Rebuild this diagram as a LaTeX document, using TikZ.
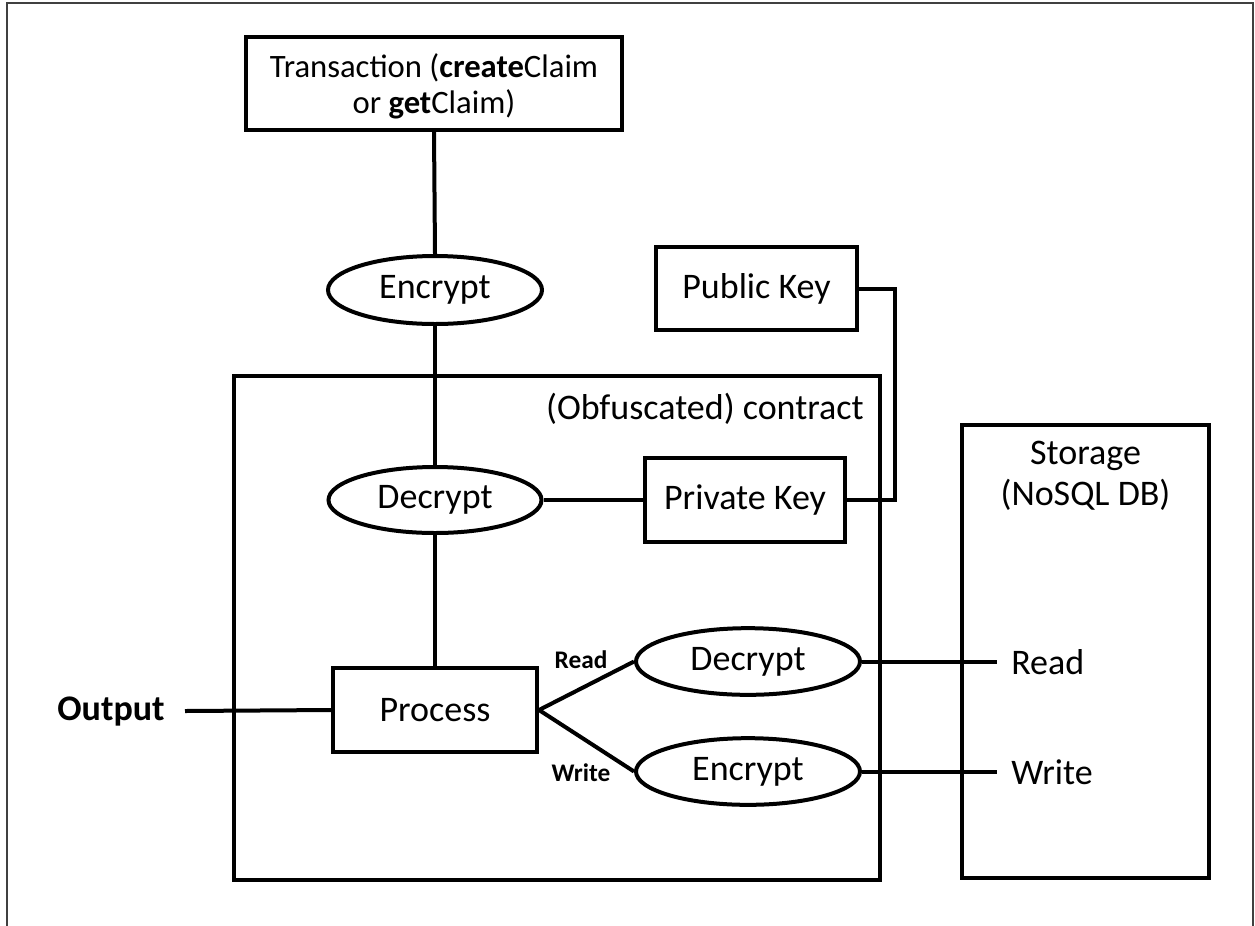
\documentclass[tikz,border=0pt]{standalone}
\usepackage{fontspec}
\setmainfont{Carlito}
\usetikzlibrary{shapes.geometric}
\begin{document}
\begin{tikzpicture}[x=0.75pt,y=-0.75pt,
  every node/.style={font=\fontsize{27}{33}\selectfont, inner sep=0pt},
  box/.style={draw, line width=3pt, rectangle},
  oval/.style={draw, line width=3pt, ellipse},
  conn/.style={line width=3pt},
  small/.style={font=\fontsize{19}{22}\selectfont\bfseries}]
\useasboundingbox (0,0) rectangle (1255,925);
\draw[line width=1pt, black!75] (7,930) -- (7,3) -- (1253,3) -- (1253,930);

\node[box, minimum width=282pt, minimum height=70pt] (trans) at (434,83.5) {};
\node[align=center, font=\fontsize{24.5}{27}\selectfont] (transtext) at (434,86.5)
  {Transaction (\textbf{create}Claim\\or \textbf{get}Claim)};
\node[oval, minimum width=160.5pt, minimum height=51pt] (enc1) at (435,290) {Encrypt};
\node[box, minimum width=150.75pt, minimum height=62.25pt] (pub) at (756.5,288.5) {Public Key};
\node[box, minimum width=484.5pt, minimum height=378pt] (contract) at (557,628) {};
\node[anchor=east] (clabel) at (864,409) {(Obfuscated) contract};
\node[oval, minimum width=159.75pt, minimum height=49.5pt] (dec1) at (435,500) {Decrypt};
\node[box, minimum width=150pt, minimum height=63pt] (priv) at (745,500) {Private Key};
\node[box, minimum width=153pt, minimum height=63pt] (proc) at (435,710) {Process};
\node[oval, minimum width=168pt, minimum height=50pt] (dec2) at (748,661.5) {Decrypt};
\node[oval, minimum width=168pt, minimum height=50pt] (enc2) at (748,771.5) {Encrypt};
\node[box, minimum width=185.25pt, minimum height=339.75pt] (stor) at (1085.5,651.5) {};
\node[align=center, anchor=north, font=\fontsize{27}{30.75}\selectfont] (storlabel) at (1085.5,441) {Storage\\(NoSQL DB)};
\node[font=\fontsize{27}{33}\selectfont\bfseries] (out) at (111,712) {Output};
\node[small] (rlab) at (581,660) {Read};
\node[small] (wlab) at (581,773) {Write};
\coordinate (rend) at (997,661.5);
\coordinate (wend) at (997,771.5);
\node[anchor=west] (rtxt) at (1011,662) {Read};
\node[anchor=west] (wtxt) at (1011,772) {Write};
\coordinate (outend) at (185,711);

\draw[conn] (trans.south) -- (enc1.north);
\draw[conn] (enc1.south) -- (dec1.north);
\draw[conn] (dec1.east) -- (priv.west);
\draw[conn] (dec1.south) -- (proc.north);
\draw[conn] (pub.east) -- ++(36,0) |- (priv.east);
\draw[conn] (outend) -- (proc.west);
\draw[conn] (proc.east) -- (dec2.west);
\draw[conn] (proc.east) -- (enc2.west);
\draw[conn] (dec2.east) -- (rend);
\draw[conn] (enc2.east) -- (wend);
\end{tikzpicture}
\end{document}
